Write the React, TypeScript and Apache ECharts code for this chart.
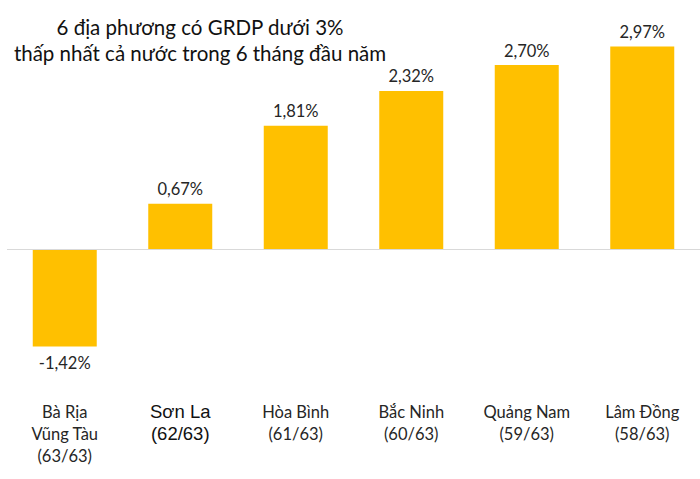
import React, { useEffect, useRef } from "react";
import * as echarts from "echarts";

const provinces = ["Bà Rịa\nVũng Tàu", "Sơn La", "Hòa Bình", "Bắc Ninh", "Quảng Nam", "Lâm Đồng"];
const ranks = ["(63/63)", "(62/63)", "(61/63)", "(60/63)", "(59/63)", "(58/63)"];
const values = [-1.42, 0.67, 1.81, 2.32, 2.7, 2.97];
const titleLines = ["6 địa phương có GRDP dưới 3%", "thấp nhất cả nước trong 6 tháng đầu năm"];

const FONT = "Lato, 'Noto Sans', sans-serif";

export default function App() {
  const ref = useRef<HTMLDivElement>(null);
  useEffect(() => {
    if (!ref.current) return;
    const chart = echarts.init(ref.current, null, { renderer: "svg" });
    const categories = provinces.map((p, i) => p + "\n" + ranks[i]);
    chart.setOption({
      animation: false,
      backgroundColor: "#ffffff",
      title: {
        text: titleLines.join("\n"),
        left: 195,
        top: 9,
        textAlign: "center",
        textStyle: { fontFamily: FONT, fontSize: 20.5, fontWeight: "normal", color: "#111111", lineHeight: 26 },
      },
      grid: { left: 7, right: -3, top: 44.5, bottom: 479 - 399.9 },
      xAxis: {
        type: "category",
        data: categories,
        axisLine: { show: false },
        axisTick: { show: false },
        axisLabel: {
          margin: 1,
          interval: 0,
          fontFamily: FONT,
          fontSize: 16.5,
          lineHeight: 22,
          color: "#262626",
          formatter: (v: string) => {
            if (v.startsWith("Sơn La")) {
              return v.split("\n").map((s) => "{b|" + s + "}").join("\n");
            }
            return v;
          },
          rich: {
            b: { fontFamily: "Liberation Sans", fontSize: 18.5, lineHeight: 22, color: "#111111" },
          },
        },
      },
      yAxis: {
        type: "value",
        min: -2.2,
        max: 3,
        show: false,
        splitLine: { show: false },
      },
      series: [
        {
          type: "bar",
          barWidth: 64,
          itemStyle: { color: "#FFC000" },
          data: values.map((v) =>
            v < 0
              ? { value: v, label: { position: "bottom", distance: 8 } }
              : { value: v }
          ),
          label: {
            show: true,
            position: "top",
            distance: 6,
            fontFamily: FONT,
            fontSize: 16.5,
            color: "#262626",
            formatter: (p: any) => p.value.toFixed(2).replace(".", ",") + "%",
          },
          markLine: {
            silent: true,
            symbol: "none",
            label: { show: false },
            lineStyle: { color: "#d9d9d9", type: "solid", width: 1 },
            data: [{ yAxis: 0 }],
          },
        },
      ],
    });
    return () => chart.dispose();
  }, []);
  return <div ref={ref} style={{ width: 700, height: 479, position: "absolute", left: 0, top: 0 }} />;
}
